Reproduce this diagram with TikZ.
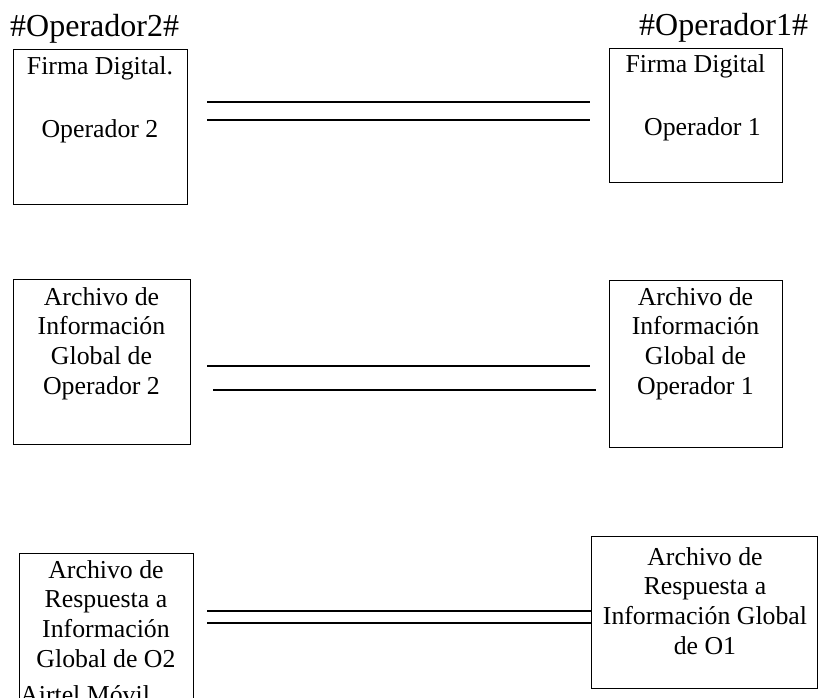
\documentclass[tikz,border=0pt]{standalone}
\usepackage{fontspec}
\setmainfont{Liberation Serif}
\usepackage{tikz}
\usetikzlibrary{calc}

\tikzset{
	caja/.style = {draw, line width=1.3pt, rectangle, inner sep=0pt, anchor=north west},
	texto/.style = {align=center, anchor=base, inner sep=0pt, font=\fontsize{25.8}{29.6}\selectfont},
	rotulo/.style = {anchor=base west, inner sep=0pt, font=\fontsize{32}{36}\selectfont},
	linea/.style = {line width=1.6pt}
}

\begin{document}
\begin{tikzpicture}[x=1pt, y=-1pt]
		\useasboundingbox (0,0) rectangle (819,697);
		\clip (0,0) rectangle (819,697);
		\node[rotulo] (op2) at (10,36) {\#Operador2\#};
		\node[rotulo] (op1) at (639,35) {\#Operador1\#};
		\node[caja, minimum width=174, minimum height=155] (firma2) at (13,49) {};
		\node[caja, minimum width=173, minimum height=134] (firma1) at (609,48) {};
		\node[caja, minimum width=177, minimum height=165] (arch2) at (13,279) {};
		\node[caja, minimum width=173, minimum height=167] (arch1) at (609,280) {};
		\node[caja, minimum width=174, minimum height=200] (resp2) at (19,553) {};
		\node[caja, minimum width=226, minimum height=152] (resp1) at (591,536) {};
		\node[texto] (tfirma2) at (100,137) {Firma Digital.\\ \\[3pt]Operador 2};
		\node[texto] (tfirma1) at (695.5,135) {Firma Digital\\ \\[3pt]\hspace*{14pt}Operador 1};
		\node[texto] (tarch2) at (101.5,394) {Archivo de\\Información\\Global de\\Operador 2};
		\node[texto] (tarch1) at (695.5,394) {Archivo de\\Información\\Global de\\Operador 1};
		\node[texto] (tresp2) at (106,667) {Archivo de\\Respuesta a\\Información\\Global de O2};
		\node[texto] (tresp1) at (705,654) {Archivo de\\Respuesta a\\Información Global\\de O1};
		\node[texto, anchor=base west] (airtel) at (20,703) {Airtel Móvil};
		\draw[linea] ($(firma2.east |- 0,102)+(19,0)$) -- ($(firma1.west |- 0,102)+(-19,0)$);
		\draw[linea] ($(firma2.east |- 0,120)+(19,0)$) -- ($(firma1.west |- 0,120)+(-19,0)$);
		\draw[linea] ($(arch2.east |- 0,366)+(16,0)$) -- ($(arch1.west |- 0,366)+(-19,0)$);
		\draw[linea] ($(arch2.east |- 0,390)+(22,0)$) -- ($(arch1.west |- 0,390)+(-13,0)$);
		\draw[linea, line width=1.3pt] ($(resp2.east |- 0,611)+(13,0)$) -- (resp1.west |- 0,611);
		\draw[linea, line width=1.3pt] ($(resp2.east |- 0,623)+(13,0)$) -- (resp1.west |- 0,623);
	\end{tikzpicture}
\end{document}
